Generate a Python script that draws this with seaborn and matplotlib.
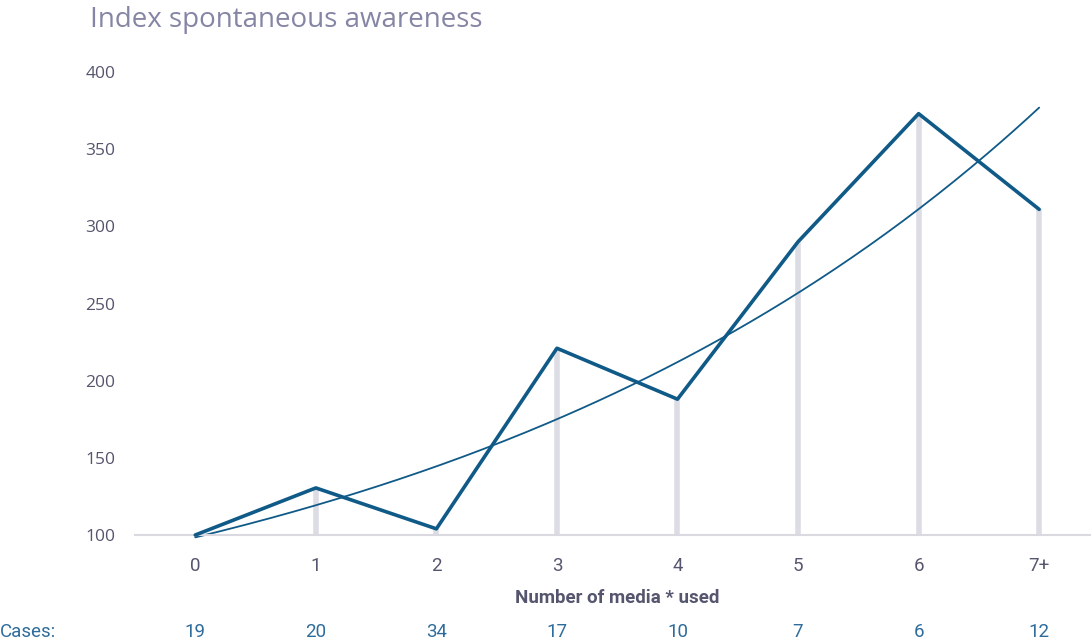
import numpy as np
import pandas as pd
import matplotlib
matplotlib.use("Agg")
import matplotlib.pyplot as plt
import seaborn as sns

# Index of spontaneous awareness by number of media used
categories = ["0", "1", "2", "3", "4", "5", "6", "7+"]
index_values = [100, 130.5, 104, 221, 188, 290, 373, 311]
cases = [19, 20, 34, 17, 10, 7, 6, 12]

sns.set_theme(style="white")
plt.rcParams["font.family"] = ["Open Sans", "DejaVu Sans"]

LINE = "#105a88"
DROP = "#dcdce4"
TICK = "#55566e"
TITLE = "#8585a6"
CASES = "#2e6c9c"
NARROW = ["Roboto", "DejaVu Sans"]

pos = np.arange(len(categories))
df = pd.DataFrame({"pos": pos, "value": index_values})

# exponential trend fitted on the index values
b, ln_a = np.polyfit(pos, np.log(index_values), 1)
xs = np.linspace(0, len(categories) - 1, 200)
trend = pd.DataFrame({"pos": xs, "value": np.exp(ln_a + b * xs)})

fig = plt.figure(figsize=(10.91, 6.44), dpi=100)
W, H = 1091, 644
ax = fig.add_axes([135 / W, 1 - 535 / H, (1091 - 135) / W, (535 - 72) / H])

ax.vlines(pos[1:], 100, np.array(index_values)[1:], color=DROP, lw=4.0, zorder=1)
sns.lineplot(data=trend, x="pos", y="value", ax=ax, color=LINE, lw=1.3, zorder=2)
sns.lineplot(data=df, x="pos", y="value", ax=ax, color=LINE, lw=2.6, zorder=3)

ax.set_xlim(-0.5, 7.43)
ax.set_ylim(100, 400)
ax.set_yticks([100, 150, 200, 250, 300, 350, 400])
ax.set_xticks(pos)
ax.set_xticklabels(categories)
for s in ["top", "right", "left"]:
    ax.spines[s].set_visible(False)
ax.spines["bottom"].set_color("#d9d9df")
ax.spines["bottom"].set_linewidth(1.5)
ax.tick_params(axis="y", length=0, pad=14, labelsize=12.5, labelcolor=TICK)
ax.tick_params(axis="x", length=0, pad=16, labelsize=13.5, labelcolor=TICK)
for t in ax.get_xticklabels():
    t.set_family(NARROW)
ax.set_xlabel("")
ax.set_ylabel("")
for line in ax.lines:
    line.set_clip_on(False)

fig.text(90 / W, 1 - 20 / H, "Index spontaneous awareness", fontsize=20,
         color=TITLE, va="center", ha="left")
fig.text(617 / W, 1 - 598 / H, "Number of media * used", fontsize=13.5,
         color=TICK, weight="bold", va="center", ha="center", family=NARROW)

fig.text(0, 1 - 632 / H, "Cases:", fontsize=13.5, color=CASES, va="center",
         ha="left", family=NARROW)
for p, c in zip(pos, cases):
    ax.annotate(str(c), xy=(p, 0), xycoords=("data", "figure fraction"),
                xytext=(0, 12), textcoords="offset pixels", ha="center",
                va="center", fontsize=13.5, color=CASES, family=NARROW)

fig.savefig("out.png", dpi=100)
